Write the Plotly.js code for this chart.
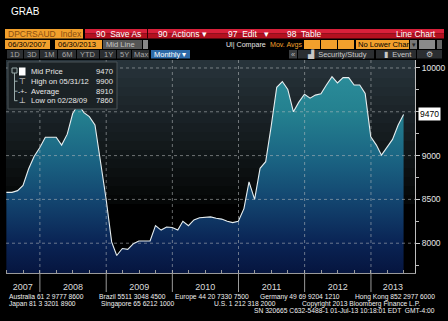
<!DOCTYPE html>
<html><head><meta charset="utf-8">
<script src="https://cdn.plot.ly/plotly-3.0.1.min.js"></script>
<style>html,body{margin:0;padding:0;background:#000;overflow:hidden}#chart{width:448px;height:321px}</style>
</head><body><div id="chart"></div>
<script>
// ---------- data ----------
const monthEnds = [
 '2007-06-30','2007-07-31','2007-08-31','2007-09-30','2007-10-31','2007-11-30','2007-12-31',
 '2008-01-31','2008-02-29','2008-03-31','2008-04-30','2008-05-31','2008-06-30','2008-07-31','2008-08-31','2008-09-30','2008-10-31','2008-11-30','2008-12-31',
 '2009-01-31','2009-02-28','2009-03-31','2009-04-30','2009-05-31','2009-06-30','2009-07-31','2009-08-31','2009-09-30','2009-10-31','2009-11-30','2009-12-31',
 '2010-01-31','2010-02-28','2010-03-31','2010-04-30','2010-05-31','2010-06-30','2010-07-31','2010-08-31','2010-09-30','2010-10-31','2010-11-30','2010-12-31',
 '2011-01-31','2011-02-28','2011-03-31','2011-04-30','2011-05-31','2011-06-30','2011-07-31','2011-08-31','2011-09-30','2011-10-31','2011-11-30','2011-12-31',
 '2012-01-31','2012-02-29','2012-03-31','2012-04-30','2012-05-31','2012-06-30','2012-07-31','2012-08-31','2012-09-30','2012-10-31','2012-11-30','2012-12-31',
 '2013-01-31','2013-02-28','2013-03-31','2013-04-30','2013-05-31','2013-06-30'];
const midPrice = [
 8580,8580,8600,8660,8850,8990,9090,
 9210,9210,9210,9120,9245,9480,9585,9490,9445,9350,8950,8510,
 8015,7860,7940,7930,7995,8025,8025,8025,8200,8150,8185,8180,
 8150,8250,8200,8265,8290,8295,8300,8285,8275,8250,8235,8250,
 8395,8700,8500,8855,8930,9330,9780,9845,9755,9500,9610,9700,
 9655,9690,9705,9805,9900,9830,9890,9890,9805,9805,9710,9215,
 9120,9005,9095,9185,9350,9470];
const yearLabels = ['2007','2008','2009','2010','2011','2012','2013'];
const yTickVals = [8000,8500,9000,10000];
const yTickText = ['8000','8500','9000','10000'];
const yGridVals = [8000,8500,9000,9500,10000];
const legendLabels = ['Mid Price','High on 05/31/12','Average','Low on 02/28/09'];
const legendValues = ['9470','9900','8910','7860'];
const lastLabel = '9470';
const xRange = ['2007-06-28','2013-09-01'];
const yRange = [7660,10091];

// ---------- geometry helpers (pixel -> paper) ----------
const L=6, T=60, W=409, H=213;
const px = x => (x-L)/W;
const py = y => (T+H-y)/H;
const FONT = 'Liberation Sans, Arial, sans-serif';
const shapes = [], annotations = [];
function rect(x0,y0,x1,y1,fill,line){shapes.push({type:'rect',xref:'paper',yref:'paper',x0:px(x0),x1:px(x1),y0:py(y0),y1:py(y1),fillcolor:fill,line:{width:line?1:0,color:line||fill},layer:'above'});}
function text(x,y,s,color,size,anchor,family){annotations.push({xref:'paper',yref:'paper',x:px(x),y:py(y),text:s,showarrow:false,xanchor:anchor||'left',yanchor:'middle',font:{color:color,size:size,family:family||FONT},borderpad:0});}
function hexToRgb(h){return [parseInt(h.substr(1,2),16),parseInt(h.substr(3,2),16),parseInt(h.substr(5,2),16)];}
function mix(a,b,t){const A=hexToRgb(a),B=hexToRgb(b);return 'rgb('+A.map((v,i)=>Math.round(v+(B[i]-v)*t)).join(',')+')';}

// plot background bands (top grey -> black)
const nb=16;
for(let i=0;i<nb;i++){
  const y0=T+i*9, y1=y0+9;
  shapes.push({type:'rect',xref:'paper',yref:'paper',x0:0,x1:1,y0:py(y1),y1:py(y0),fillcolor:mix('#27333a','#050707',i/(nb-1)),line:{width:0},layer:'below'});
}

// dotted grid above the fill
yGridVals.forEach(v=>shapes.push({type:'line',xref:'paper',yref:'y',x0:0,x1:1,y0:v,y1:v,line:{color:'rgba(185,190,192,0.55)',width:1,dash:'dot'},layer:'above'}));
yearLabels.slice(1).forEach(yr=>{
  shapes.push({type:'line',xref:'x',yref:'paper',x0:yr+'-01-01',x1:yr+'-01-01',y0:0,y1:1,line:{color:'rgba(185,190,192,0.55)',width:1,dash:'dot'},layer:'above'});
  shapes.push({type:'line',xref:'x',yref:'paper',x0:yr+'-01-01',x1:yr+'-01-01',y0:0,y1:py(292),line:{color:'#9a9a9a',width:1},layer:'above'});
});

// year label positions: centre of each visible year span
const r0=Date.parse(xRange[0]), r1=Date.parse(xRange[1]);
const yearTickVals = yearLabels.map(yr=>{
  const a=Math.max(r0,Date.parse(yr+'-01-01')), b=Math.min(r1,Date.parse((+yr+1)+'-01-01'));
  return new Date((a+b)/2).toISOString().slice(0,10);
});

// ---------- header chrome ----------
text(10,11,'GRAB','#ffffff',10);
// row 1
rect(5,29,83,38.5,'#f2a02c');
text(7,33.8,'DPCRSAUD  Index','#8a4e10',8.5);
rect(85,29,444,33.5,'#d9203a'); rect(85,33.5,444,38.5,'#b3101f');
rect(147,29,148,38.5,'#300');
text(95,33.8,'90  Save As','#ffffff',8.5);
text(157,33.8,'90  Actions ▾','#ffffff',8.5);
text(227,33.8,'97  Edit   ▾','#ffffff',8.5);
text(286,33.8,'98  Table','#ffffff',8.5);
text(437,33.8,'Line Chart','#ffffff',8.5,'right');
// row 2
rect(5,40,50,49,'#f2a02c'); text(6.5,44.6,'06/30/2007','#000',7.6);
rect(55,40,102,49,'#f2a02c'); text(57,44.6,'06/30/2013','#000',7.6);
rect(103,40,142,49,'#555'); text(105,44.6,'Mid Line','#c8c8c8',7.6);
rect(143,40,148,49,'#888');
text(225,44.6,'Ul| Compare','#e8e8e8',7.1);
text(269,44.6,'Mov. Avgs','#f2a02c',7.1);
rect(304,40,320,49,'#f2a02c'); rect(321,40,337,49,'#f2a02c'); rect(338,40,354,49,'#f2a02c');
rect(356,40,409,49,'#f2a02c'); text(357,44.6,'No Lower Char','#000',7.6);
rect(410,40,417,49,'#777'); text(413.5,44.6,'▾','#222',7,'center');
rect(419,40,435,49,'#8a8a8a'); rect(437,40,442,49,'#666');
// row 3
const btns=[['1D',7,23],['3D',24,39],['1M',40,57],['6M',58,76],['YTD',77,99],['1Y',100,116],['5Y',117,131],['Max',132,149]];
btns.forEach(b=>{rect(b[1],50,b[2],58.5,'#2b2e31');text((b[1]+b[2])/2,54.3,b[0],'#a8a8a8',7.5,'center');});
rect(151,50,190,58.5,'#2d6aa8'); text(153,54.3,'Monthly ▾','#ffffff',7.5);
rect(289,50,297,58.5,'#3a3d40'); text(293,54.3,'«','#bbb',7.5,'center');
rect(298,50,374,58.5,'#2b2e31'); text(306,54.3,'▟  Security/Study','#c8c8c8',7.5);
rect(376,50,416,58.5,'#2b2e31'); text(383,54.3,'▮  Event','#c8c8c8',7.5);
rect(417,50,442,58.5,'#2b2e31'); text(429.5,54.3,'⚙','#c8c8c8',7.5,'center');

// ---------- legend box ----------
rect(8,62,117,109,'#1b2225','#4b5357');
const rowY=[71.7,81.2,91.2,100.7];
rect(12,68,17,73,'#1b2225','#9aa');
shapes.push({type:'line',xref:'paper',yref:'paper',x0:px(14.5),x1:px(14.5),y0:py(73),y1:py(100.7),line:{color:'#9aa',width:1},layer:'above'});
rowY.slice(1).forEach(y=>shapes.push({type:'line',xref:'paper',yref:'paper',x0:px(14.5),x1:px(17.5),y0:py(y),y1:py(y),line:{color:'#9aa',width:1},layer:'above'}));
rect(19,67.5,25.5,75.5,'#ffffff');
text(22,rowY[1],'⊤','#e8e8e8',8,'center','DejaVu Sans, sans-serif');
text(22,rowY[2],'-+-','#e8e8e8',7,'center');
text(22,rowY[3],'⊥','#e8e8e8',8,'center','DejaVu Sans, sans-serif');
legendLabels.forEach((s,i)=>{text(29.5,rowY[i],s,'#e8e8e8',7.6);text(114.5,rowY[i],legendValues[i],'#e8e8e8',7.6,'right');});

// ---------- footer ----------
const FS=6.7, FC='#f0f0f0';
text(8,296.8,'Australia 61 2 9777 8600',FC,FS);
text(98,296.8,'Brazil 5511 3048 4500',FC,FS);
text(174,296.8,'Europe 44 20 7330 7500',FC,FS);
text(259,296.8,'Germany 49 69 9204 1210',FC,FS);
text(436,296.8,'Hong Kong 852 2977 6000',FC,FS,'right');
text(8,303.6,'Japan 81 3 3201 8900',FC,FS);
text(100,303.6,'Singapore 65 6212 1000',FC,FS);
text(213,303.6,'U.S. 1 212 318 2000',FC,FS);
text(301,303.6,'Copyright 2013 Bloomberg Finance L.P.',FC,FS);
text(436,310.4,'SN 320665 C632-5488-1 01-Jul-13 10:18:01 EDT  GMT-4:00',FC,FS,'right');

// last price tag
annotations.push({xref:'paper',yref:'y',x:px(418),y:midPrice[midPrice.length-1],text:lastLabel,showarrow:false,xanchor:'left',yanchor:'middle',bgcolor:'#ffffff',font:{color:'#000',size:8.5,family:FONT},borderpad:1});

// ---------- trace ----------
const trace = {
  x: monthEnds, y: midPrice, type:'scatter', mode:'lines',
  line:{color:'#e6eef0',width:1.1},
  fill:'tozeroy',
  fillgradient:{type:'vertical',start:7660,stop:10000,
    colorscale:[[0,'#06153f'],[0.15,'#0a2455'],[0.36,'#134670'],[0.57,'#1b6684'],[0.78,'#24808f'],[1,'#2c8f9c']]},
  hoverinfo:'skip'
};

const layout = {
  width:448, height:321,
  margin:{l:L,r:448-L-W,t:T,b:321-T-H,pad:0},
  paper_bgcolor:'#000', plot_bgcolor:'#000',
  showlegend:false,
  xaxis:{type:'date',range:xRange,tickmode:'array',tickvals:yearTickVals,ticktext:yearLabels,
    ticks:'',ticklabelstandoff:5,showgrid:false,zeroline:false,showline:true,linecolor:'#9a9a9a',linewidth:1,
    tickfont:{color:'#dcdcdc',size:9,family:FONT},
    minor:{dtick:'M3',tick0:'2007-01-01',ticks:'inside',ticklen:3,tickcolor:'#9a9a9a',showgrid:false}},
  yaxis:{side:'right',range:yRange,tickmode:'array',tickvals:yTickVals,ticktext:yTickText,ticks:'outside',ticklen:4,tickcolor:'#cfcfcf',
    showgrid:false,zeroline:false,showline:true,linecolor:'#bdbdbd',linewidth:1,
    tickfont:{color:'#e4e4e4',size:8.5,family:FONT},
    minor:{dtick:250,tick0:0,ticks:'outside',ticklen:3,tickcolor:'#bdbdbd',showgrid:false}},
  shapes:shapes, annotations:annotations
};
Plotly.newPlot('chart',[trace],layout,{displayModeBar:false,staticPlot:true});
</script></body></html>
